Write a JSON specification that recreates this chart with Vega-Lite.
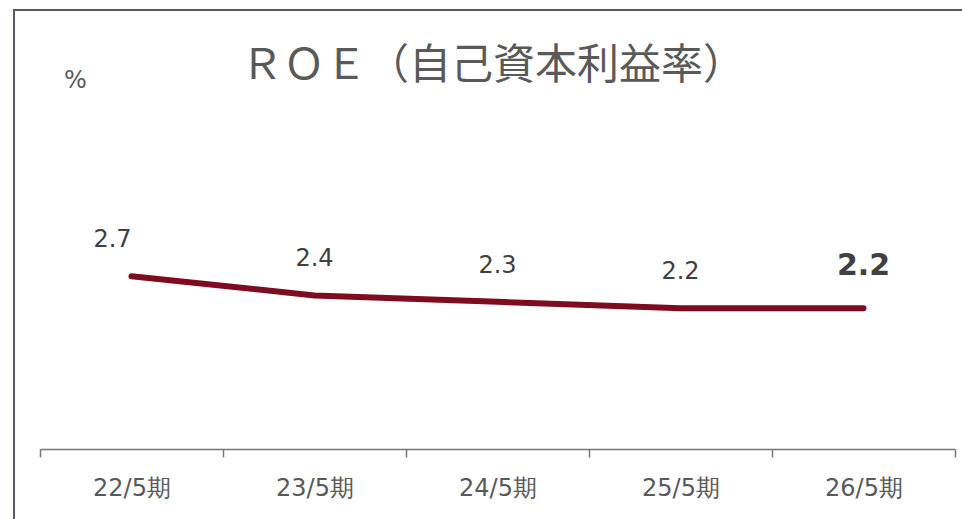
{
  "$schema": "https://vega.github.io/schema/vega-lite/v6.json",
  "autosize": "none",
  "width": 950,
  "height": 511,
  "padding": {"left": 14, "top": 10, "right": -2, "bottom": -2},
  "background": "white",
  "config": {"view": {"stroke": "#555a66", "strokeWidth": 2}},
  "title": {
    "text": "ＲＯＥ（自己資本利益率）",
    "font": "Noto Sans CJK JP",
    "fontSize": 42,
    "fontWeight": "normal",
    "color": "#595959",
    "anchor": "middle",
    "frame": "group",
    "orient": "top",
    "baseline": "middle",
    "dx": 4,
    "offset": -98
  },
  "data": {
    "values": [
      {"period": "22/5期", "roe": 2.7},
      {"period": "23/5期", "roe": 2.4},
      {"period": "24/5期", "roe": 2.3},
      {"period": "25/5期", "roe": 2.2},
      {"period": "26/5期", "roe": 2.2}
    ]
  },
  "encoding": {
    "x": {
      "field": "period",
      "type": "nominal",
      "sort": null,
      "bandPosition": 0.5,
      "scale": {"type": "band", "range": [26, 941], "paddingInner": 0, "paddingOuter": 0},
      "axis": {
        "title": null,
        "orient": "bottom",
        "offset": -72,
        "tickBand": "extent",
        "domainColor": "#767676",
        "domainWidth": 1.5,
        "tickColor": "#767676",
        "tickWidth": 1.5,
        "tickSize": 8,
        "labelFont": "DejaVu Sans",
        "labelFontSize": 24,
        "labelColor": "#595959",
        "labelPadding": 19,
        "labelAngle": 0,
        "labelBaseline": "top",
        "grid": false
      }
    },
    "y": {
      "field": "roe",
      "type": "quantitative",
      "scale": {"domain": [0, 5], "range": [439, 119], "nice": false, "zero": false},
      "axis": {
        "title": "%",
        "titleAngle": 0,
        "titleX": 61,
        "titleY": 70,
        "titleAlign": "center",
        "titleBaseline": "middle",
        "titleFont": "DejaVu Sans",
        "titleFontSize": 24,
        "titleFontWeight": "normal",
        "titleColor": "#595959",
        "domain": false,
        "ticks": false,
        "labels": false,
        "grid": false
      }
    }
  },
  "layer": [
    {
      "mark": {"type": "line", "color": "#7e0b1f", "strokeWidth": 6, "strokeCap": "round", "strokeJoin": "round"}
    },
    {
      "transform": [{"filter": "datum.period == '22/5期'"}],
      "mark": {"type": "text", "font": "DejaVu Sans", "fontSize": 24, "color": "#404040", "baseline": "middle", "dx": -19, "dy": -36},
      "encoding": {"text": {"field": "roe", "type": "quantitative", "format": ".1f"}}
    },
    {
      "transform": [{"filter": "datum.period != '22/5期' && datum.period != '26/5期'"}],
      "mark": {"type": "text", "font": "DejaVu Sans", "fontSize": 24, "color": "#404040", "baseline": "middle", "dy": -36},
      "encoding": {"text": {"field": "roe", "type": "quantitative", "format": ".1f"}}
    },
    {
      "transform": [{"filter": "datum.period == '26/5期'"}],
      "mark": {"type": "text", "font": "DejaVu Sans", "fontSize": 30, "fontWeight": "bold", "color": "#404040", "baseline": "middle", "dy": -42},
      "encoding": {"text": {"field": "roe", "type": "quantitative", "format": ".1f"}}
    }
  ]
}
